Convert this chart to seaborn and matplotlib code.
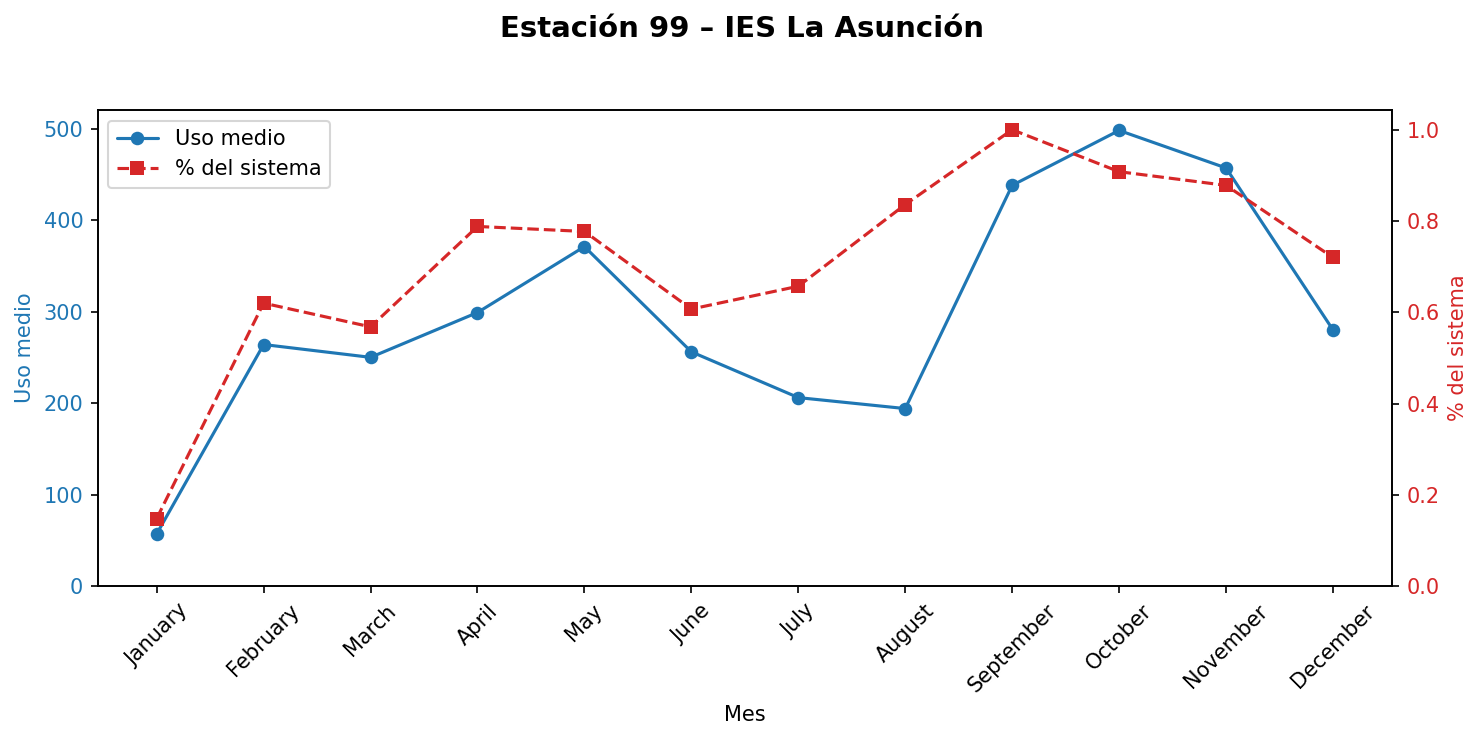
import pandas as pd
import matplotlib
matplotlib.use('Agg')
import matplotlib.pyplot as plt
import seaborn as sns

# Data
months = ['January', 'February', 'March', 'April', 'May', 'June',
          'July', 'August', 'September', 'October', 'November', 'December']
uso_medio = [57, 264, 250, 299, 371, 256, 206, 194, 438, 498, 457, 280]
pct_sistema = [0.148, 0.620, 0.568, 0.788, 0.777, 0.607, 0.657, 0.836, 1.0, 0.908, 0.878, 0.720]

df = pd.DataFrame({'Mes': months, 'uso': uso_medio, 'pct': pct_sistema})
df['pos'] = range(len(months))

# plain matplotlib look: black text, white background
sns.set_style('ticks', rc={'text.color': 'black', 'axes.labelcolor': 'black',
                           'xtick.color': 'black', 'ytick.color': 'black',
                           'axes.edgecolor': 'black'})
plt.rcParams['font.family'] = ['DejaVu Sans']
plt.rcParams['font.size'] = 10

fig, ax1 = plt.subplots(figsize=(1483 / 150, 740 / 150), dpi=150)
fig.subplots_adjust(left=0.066, right=0.9385, top=0.851, bottom=0.208)

sns.lineplot(data=df, x='pos', y='uso', ax=ax1, color='tab:blue', marker='o',
             markersize=6.5, markeredgewidth=0, linewidth=1.5, label='Uso medio', legend=False)
ax1.set_ylim(bottom=0)
ax1.set_ylabel('Uso medio', color='tab:blue')
ax1.tick_params(axis='y', labelcolor='tab:blue', labelsize=10)
ax1.tick_params(axis='x', labelsize=10)
ax1.set_xlabel('Mes')
ax1.set_xticks(df['pos'])
ax1.set_xticklabels(months, rotation=45)

ax2 = ax1.twinx()
sns.lineplot(data=df, x='pos', y='pct', ax=ax2, color='tab:red', marker='s',
             markersize=6.5, markeredgewidth=0, linewidth=1.5, linestyle='--',
             label='% del sistema', legend=False)
ax2.set_ylim(bottom=0)
ax2.set_ylabel('% del sistema', color='tab:red')
ax2.tick_params(axis='y', labelcolor='tab:red', labelsize=10)

for a in (ax1, ax2):
    for s in a.spines.values():
        s.set_visible(True)

h1, l1 = ax1.get_legend_handles_labels()
h2, l2 = ax2.get_legend_handles_labels()
ax1.legend(h1 + h2, l1 + l2, loc='upper left', fontsize=10)

fig.suptitle('Estación 99 – IES La Asunción', fontsize=14, fontweight='bold', y=0.98)

fig.savefig('out.png', dpi=150)
